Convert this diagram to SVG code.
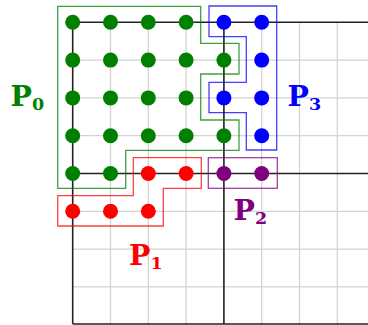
<svg xmlns="http://www.w3.org/2000/svg" width="368" height="325" viewBox="0 0 368 325">
<style>
.grid{stroke:#d4d4d4;stroke-width:1.3;fill:none}
.axis{stroke:#222;stroke-width:1.6;fill:none}
.out{fill:none;stroke-width:1.3;stroke-opacity:0.75}
.lbl{font-family:"DejaVu Serif","Liberation Serif",serif;font-weight:bold;font-size:28.5px}
.sub{font-size:17.5px}
.g{fill:#008000}.r{fill:#ff0000}.b{fill:#0000ff}.p{fill:#800080}
</style>
<rect width="368" height="325" fill="#fff"/>
<g id="grid">
<path class="grid" d="M110.5 22V325M148.3 22V325M186.1 22V325M261.7 22V325M299.5 22V325M337.3 22V325M72.7 60.1H368M72.7 97.9H368M72.7 135.7H368M72.7 211.3H368M72.7 249.1H368M72.7 286.9H368"/>
<path class="axis" d="M72.7 22.3V324M223.9 22.3V324M72.7 22.3H368M72.7 173.5H368M72.7 324H368"/>
</g>
<g id="connectors"></g>
<g id="P0">
<polygon class="out" stroke="#008000" points="57.7,6.3 200.7,6.3 200.7,43.3 239,43.3 239,74 200.7,74 200.7,120 239,120 239,150.3 125.7,150.3 125.7,188.3 57.7,188.3"/>
<g class="g">
<circle cx="72.7" cy="22.3" r="7.5"/><circle cx="110.5" cy="22.3" r="7.5"/><circle cx="148.3" cy="22.3" r="7.5"/><circle cx="186.1" cy="22.3" r="7.5"/>
<circle cx="72.7" cy="60.1" r="7.5"/><circle cx="110.5" cy="60.1" r="7.5"/><circle cx="148.3" cy="60.1" r="7.5"/><circle cx="186.1" cy="60.1" r="7.5"/><circle cx="223.9" cy="60.1" r="7.5"/>
<circle cx="72.7" cy="97.9" r="7.5"/><circle cx="110.5" cy="97.9" r="7.5"/><circle cx="148.3" cy="97.9" r="7.5"/><circle cx="186.1" cy="97.9" r="7.5"/>
<circle cx="72.7" cy="135.7" r="7.5"/><circle cx="110.5" cy="135.7" r="7.5"/><circle cx="148.3" cy="135.7" r="7.5"/><circle cx="186.1" cy="135.7" r="7.5"/><circle cx="223.9" cy="135.7" r="7.5"/>
<circle cx="72.7" cy="173.5" r="7.5"/><circle cx="110.5" cy="173.5" r="7.5"/>
</g>
<text class="lbl g" x="10.5" y="106">P<tspan class="sub" dy="4">0</tspan></text>
</g>
<g id="P1">
<polygon class="out" stroke="#ff0000" points="133.3,157.7 201.3,157.7 201.3,188.3 163.3,188.3 163.3,226 57.7,226 57.7,195.7 133.3,195.7"/>
<g class="r">
<circle cx="148.3" cy="173.5" r="7.5"/><circle cx="186.1" cy="173.5" r="7.5"/>
<circle cx="72.7" cy="211.3" r="7.5"/><circle cx="110.5" cy="211.3" r="7.5"/><circle cx="148.3" cy="211.3" r="7.5"/>
</g>
<text class="lbl r" x="129" y="265">P<tspan class="sub" dy="3.5">1</tspan></text>
</g>
<g id="P2">
<rect class="out" stroke="#800080" x="208.3" y="157.7" width="69" height="30.6"/>
<g class="p">
<circle cx="223.9" cy="173.5" r="7.5"/><circle cx="261.7" cy="173.5" r="7.5"/>
</g>
<text class="lbl p" x="233.5" y="219.5">P<tspan class="sub" dy="4">2</tspan></text>
</g>
<g id="P3">
<polygon class="out" stroke="#0000ff" points="209,6 276.7,6 276.7,150 246.3,150 246.3,112.7 209,112.7 209,82.3 246.3,82.3 246.3,36.7 209,36.7"/>
<g class="b">
<circle cx="223.9" cy="22.3" r="7.5"/><circle cx="261.7" cy="22.3" r="7.5"/>
<circle cx="261.7" cy="60.1" r="7.5"/>
<circle cx="223.9" cy="97.9" r="7.5"/><circle cx="261.7" cy="97.9" r="7.5"/>
<circle cx="261.7" cy="135.7" r="7.5"/>
</g>
<text class="lbl b" x="287.5" y="106">P<tspan class="sub" dy="4">3</tspan></text>
</g>
</svg>
